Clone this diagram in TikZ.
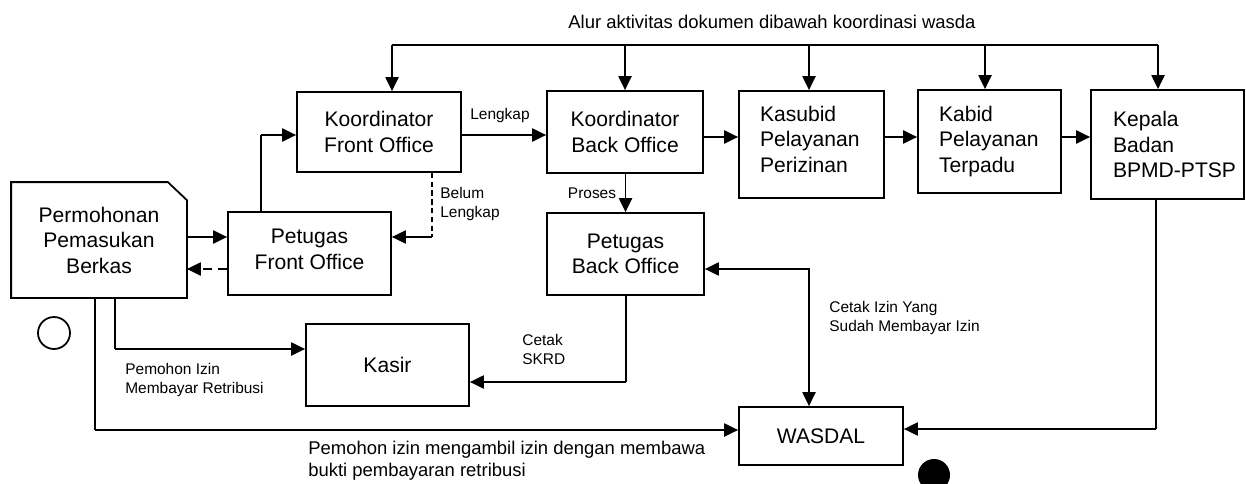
\documentclass[tikz,border=0pt]{standalone}
\usepackage{fontspec}
\setmainfont{Liberation Sans}
\usetikzlibrary{arrows.meta}
\tikzset{
  box/.style={draw, line width=1pt, inner sep=0pt, align=center, font=\fontsize{12}{14.5}\selectfont},
  sz/.style 2 args={minimum width=#1*0.02cm, minimum height=#2*0.02cm},
  lft/.style={text width=#1*0.02cm, align=left},
  conn/.style={line width=1pt, -{Triangle[length=8pt,width=7.5pt]}},
  conn2/.style={line width=1pt, {Triangle[length=8pt,width=7.5pt]}-{Triangle[length=8pt,width=7.5pt]}},
  thinl/.style={line width=0.6pt},
  lbl/.style={inner sep=0pt, align=left, font=\fontsize{8.8}{10.8}\selectfont},
  biglbl/.style={inner sep=0pt, align=left, font=\fontsize{10.5}{12.5}\selectfont},
}
\begin{document}
\begin{tikzpicture}[x=0.02cm, y=-0.02cm]
\useasboundingbox (0,0) rectangle (1246,483);

% nodes
\node[box, draw=none, sz={174}{114}] (perm) at (99,240) {Permohonan\\Pemasukan\\Berkas};
\draw[line width=1pt] (perm.south west) -- (perm.north west) -- ([xshift=-0.38cm]perm.north east) -- ([yshift=-0.36cm]perm.north east) -- (perm.south east) -- cycle;
\node[box, sz={163}{83}] (pfo) at (309.5,253.5) {Petugas\\Front Office\rule[-5pt]{0pt}{1pt}};
\node[box, sz={164}{80}] (kfo) at (379,132) {Koordinator\\Front Office};
\node[box, sz={156}{82}] (kbo) at (625,132) {Koordinator\\Back Office};
\node[box, sz={145}{107}, lft=103] (kas) at (811.5,144.5) {Kasubid\\Pelayanan\\Perizinan\rule[-6pt]{0pt}{1pt}};
\node[box, sz={143}{103}, lft=101] (kab) at (989.5,141.5) {Kabid\\Pelayanan\\Terpadu};
\node[box, sz={153}{109}, lft=109] (kep) at (1167.5,144.5) {Kepala\\Badan\\\rlap{BPMD-PTSP}};
\node[box, sz={157}{82}] (pbo) at (625.5,254) {Petugas\\Back Office};
\node[box, sz={163}{82}] (kasir) at (387.5,365) {Kasir};
\node[box, sz={164}{58}] (wasdal) at (821,436) {WASDAL};

\node[circle, draw, line width=1pt, minimum size=0.64cm, inner sep=0pt] (start) at (54,333) {};
\node[circle, fill=black, minimum size=0.64cm, inner sep=0pt] (end) at (934,475) {};

% top bus
\node[biglbl, anchor=west] (toplbl) at (568,22) {Alur aktivitas dokumen dibawah koordinasi wasda};
\coordinate (b1) at (392,45);
\coordinate (b2) at (625,45);
\coordinate (b3) at (809,45);
\coordinate (b4) at (985,45);
\coordinate (b5) at (1158,45);
\draw[thinl] (b1) -- (b5);
\draw[conn] (b1) -- (b1 |- kfo.north);
\draw[conn] (b2) -- (b2 |- kbo.north);
\draw[conn] (b3) -- (b3 |- kas.north);
\draw[conn] (b4) -- (b4 |- kab.north);
\draw[conn] (b5) -- (b5 |- kep.north);

% petugas FO -> koordinator FO
\coordinate (c1) at (261,135);
\draw[thinl] (pfo.north -| c1) -- (c1);
\draw[conn] (c1) -- (c1 -| kfo.west);

% koordinator FO -> koordinator BO
\coordinate (r0) at (0,135);
\draw[conn] (kfo.east |- r0) -- (kbo.west |- r0);
\node[lbl] (lengkap) at (500,116) {Lengkap};

% belum lengkap
\coordinate (c2) at (432,237);
\draw[thinl, dash pattern=on 3pt off 2pt] (kfo.south -| c2) -- (c2);
\draw[conn] (c2) -- (c2 -| pfo.east);
\node[lbl, anchor=west] (belum) at (440,204) {Belum\\Lengkap};

% koordinator BO -> petugas BO
\draw[conn] (kbo.south -| pbo.north) -- (pbo.north);
\node[lbl] (proses) at (592,193) {Proses};

% chain to the right
\coordinate (r1) at (0,137);
\draw[conn] (kbo.east |- r1) -- (kas.west |- r1);
\draw[conn] (kas.east |- r1) -- (kab.west |- r1);
\draw[conn] (kab.east |- r1) -- (kep.west |- r1);

% permohonan <-> petugas FO
\coordinate (r2) at (0,237);
\coordinate (r3) at (0,269);
\draw[conn] (perm.east |- r2) -- (pfo.west |- r2);
\draw[conn, dash pattern=on 5pt off 3.5pt] (pfo.west |- r3) -- (perm.east |- r3);

% permohonan -> kasir
\coordinate (c4) at (115,349);
\draw[thinl] (perm.south -| c4) -- (c4);
\draw[conn] (c4) -- (c4 -| kasir.west);
\node[lbl, anchor=west] (bayar) at (125,380) {Pemohon Izin\\Membayar Retribusi};

% permohonan -> wasdal
\coordinate (c5) at (95,430);
\draw[thinl] (perm.south -| c5) -- (c5);
\draw[conn] (c5) -- (c5 -| wasdal.west);
\node[biglbl, anchor=west] (ambil) at (308,461) {Pemohon izin mengambil izin dengan membawa\\bukti pembayaran retribusi};

% petugas BO -> kasir
\coordinate (c6) at (626,382);
\draw[thinl] (pbo.south -| c6) -- (c6);
\draw[conn] (c6) -- (c6 -| kasir.east);
\node[lbl, anchor=west] (skrd) at (522,349) {Cetak\\SKRD};

% wasdal <-> petugas BO
\coordinate (c7) at (809,269);
\draw[conn2] (wasdal.north -| c7) -- (c7) -- (c7 -| pbo.east);
\node[lbl, anchor=west] (cetak) at (829,318) {Cetak Izin Yang\\Sudah Membayar Izin};

% kepala -> wasdal
\coordinate (c8) at (1156,429);
\draw[thinl] (kep.south -| c8) -- (c8);
\draw[conn] (c8) -- (c8 -| wasdal.east);
\end{tikzpicture}
\end{document}
